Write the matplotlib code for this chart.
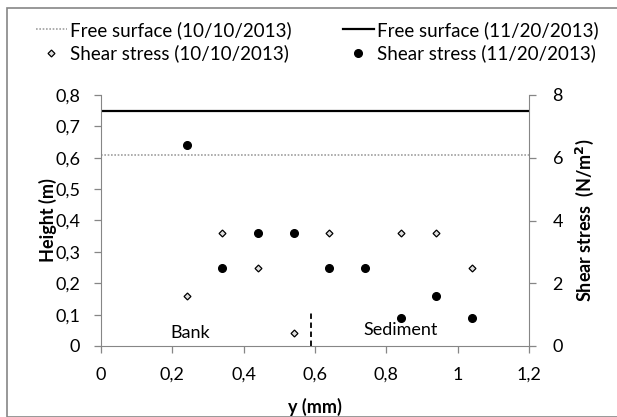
import matplotlib
matplotlib.use("Agg")
import matplotlib.pyplot as plt
from matplotlib.patches import Rectangle
from matplotlib.ticker import FuncFormatter

plt.rcParams['font.family'] = ['Lato', 'DejaVu Sans']

# data
free_surface_1010 = 0.61
free_surface_1120 = 0.75
ss1010_x = [0.24, 0.34, 0.44, 0.44, 0.54, 0.64, 0.84, 0.94, 1.04]
ss1010_y = [0.16, 0.36, 0.36, 0.25, 0.04, 0.36, 0.36, 0.36, 0.25]
ss1120_x = [0.24, 0.34, 0.44, 0.54, 0.64, 0.74, 0.84, 0.94, 1.04]
ss1120_y = [0.64, 0.25, 0.36, 0.36, 0.25, 0.25, 0.09, 0.16, 0.09]
divider_x = [0.59, 0.59]
divider_y = [0.0, 0.105]
x_ticks = [0, 0.2, 0.4, 0.6, 0.8, 1.0, 1.2]
y_ticks = [0, 0.1, 0.2, 0.3, 0.4, 0.5, 0.6, 0.7, 0.8]
y2_ticks = [0, 2, 4, 6, 8]

FS = 13
LFS = 13.5
W, H = 617, 417
fig = plt.figure(figsize=(W/100, H/100), dpi=100)
fig.patches.append(Rectangle((7/W, 0), 1, 1 - 8/H, transform=fig.transFigure,
                             fill=False, edgecolor='#868686', linewidth=1.2))

left, right, bottom, top = 101, 529, 346, 95
ax = fig.add_axes([left/W, 1 - bottom/H, (right-left)/W, (bottom-top)/H])
ax.set_xlim(0, 1.2)
ax.set_ylim(0, 0.8)

l1, = ax.plot([0, 1.2], [free_surface_1010]*2, color='#a0a0a0', linestyle=(0, (1, 1)), linewidth=1.2,
              label='Free surface (10/10/2013)')
l2, = ax.plot([0, 1.2], [free_surface_1120]*2, color='black', linewidth=1.6,
              label='Free surface (11/20/2013)')
s1, = ax.plot(ss1010_x, ss1010_y, linestyle='none', marker='D', markersize=3.5,
              markerfacecolor='#e0e0e0', markeredgecolor='black', markeredgewidth=0.9,
              label='Shear stress (10/10/2013)')
s2, = ax.plot(ss1120_x, ss1120_y, linestyle='none', marker='o', markersize=5.5,
              color='black', label='Shear stress (11/20/2013)')
ax.plot(divider_x, divider_y, color='black', linestyle=(0, (3, 2)), linewidth=1.3)

ax.text(0.25, 0.04, 'Bank', ha='center', va='center', fontsize=FS)
ax.text(0.84, 0.05, 'Sediment', ha='center', va='center', fontsize=FS)

fmt = FuncFormatter(lambda v, p: ('%g' % v).replace('.', ','))
ax.set_xticks(x_ticks)
ax.set_yticks(y_ticks)
ax.xaxis.set_major_formatter(fmt)
ax.yaxis.set_major_formatter(fmt)
for s in ['top', 'right']:
    ax.spines[s].set_visible(False)
for s in ['left', 'bottom']:
    ax.spines[s].set_color('#868686')
ax.tick_params(axis='both', colors='#868686', labelcolor='black', labelsize=FS, length=5, width=0.9)
ax.tick_params(axis='x', pad=10)
ax.tick_params(axis='y', pad=10)
ax.set_xlabel('y (mm)', fontsize=FS, fontweight='bold', labelpad=11)
ax.set_ylabel('Height (m)', fontsize=FS, fontweight='bold', labelpad=-1)

ax2 = ax.twinx()
ax2.set_ylim(0, 8)
ax2.set_yticks(y2_ticks)
for s in ['top', 'left', 'bottom']:
    ax2.spines[s].set_visible(False)
ax2.spines['right'].set_color('#868686')
ax2.tick_params(axis='y', colors='#868686', labelcolor='black', labelsize=FS, length=5, width=0.9, pad=12)
ax2.set_ylabel('Shear stress  (N/m$^\\mathbf{2}$)', fontsize=FS, fontweight='bold', labelpad=8)

common = dict(loc='upper left', ncol=1, frameon=False, fontsize=LFS, handlelength=1.65,
              handletextpad=0.16, labelspacing=0.31, borderaxespad=0, borderpad=0)
fig.legend(handles=[l1, s1], bbox_to_anchor=(36/W, 1 - 21/H), **common)
fig.legend(handles=[l2, s2], bbox_to_anchor=(343/W, 1 - 21/H), **common)

fig.savefig('out.png', dpi=100)
